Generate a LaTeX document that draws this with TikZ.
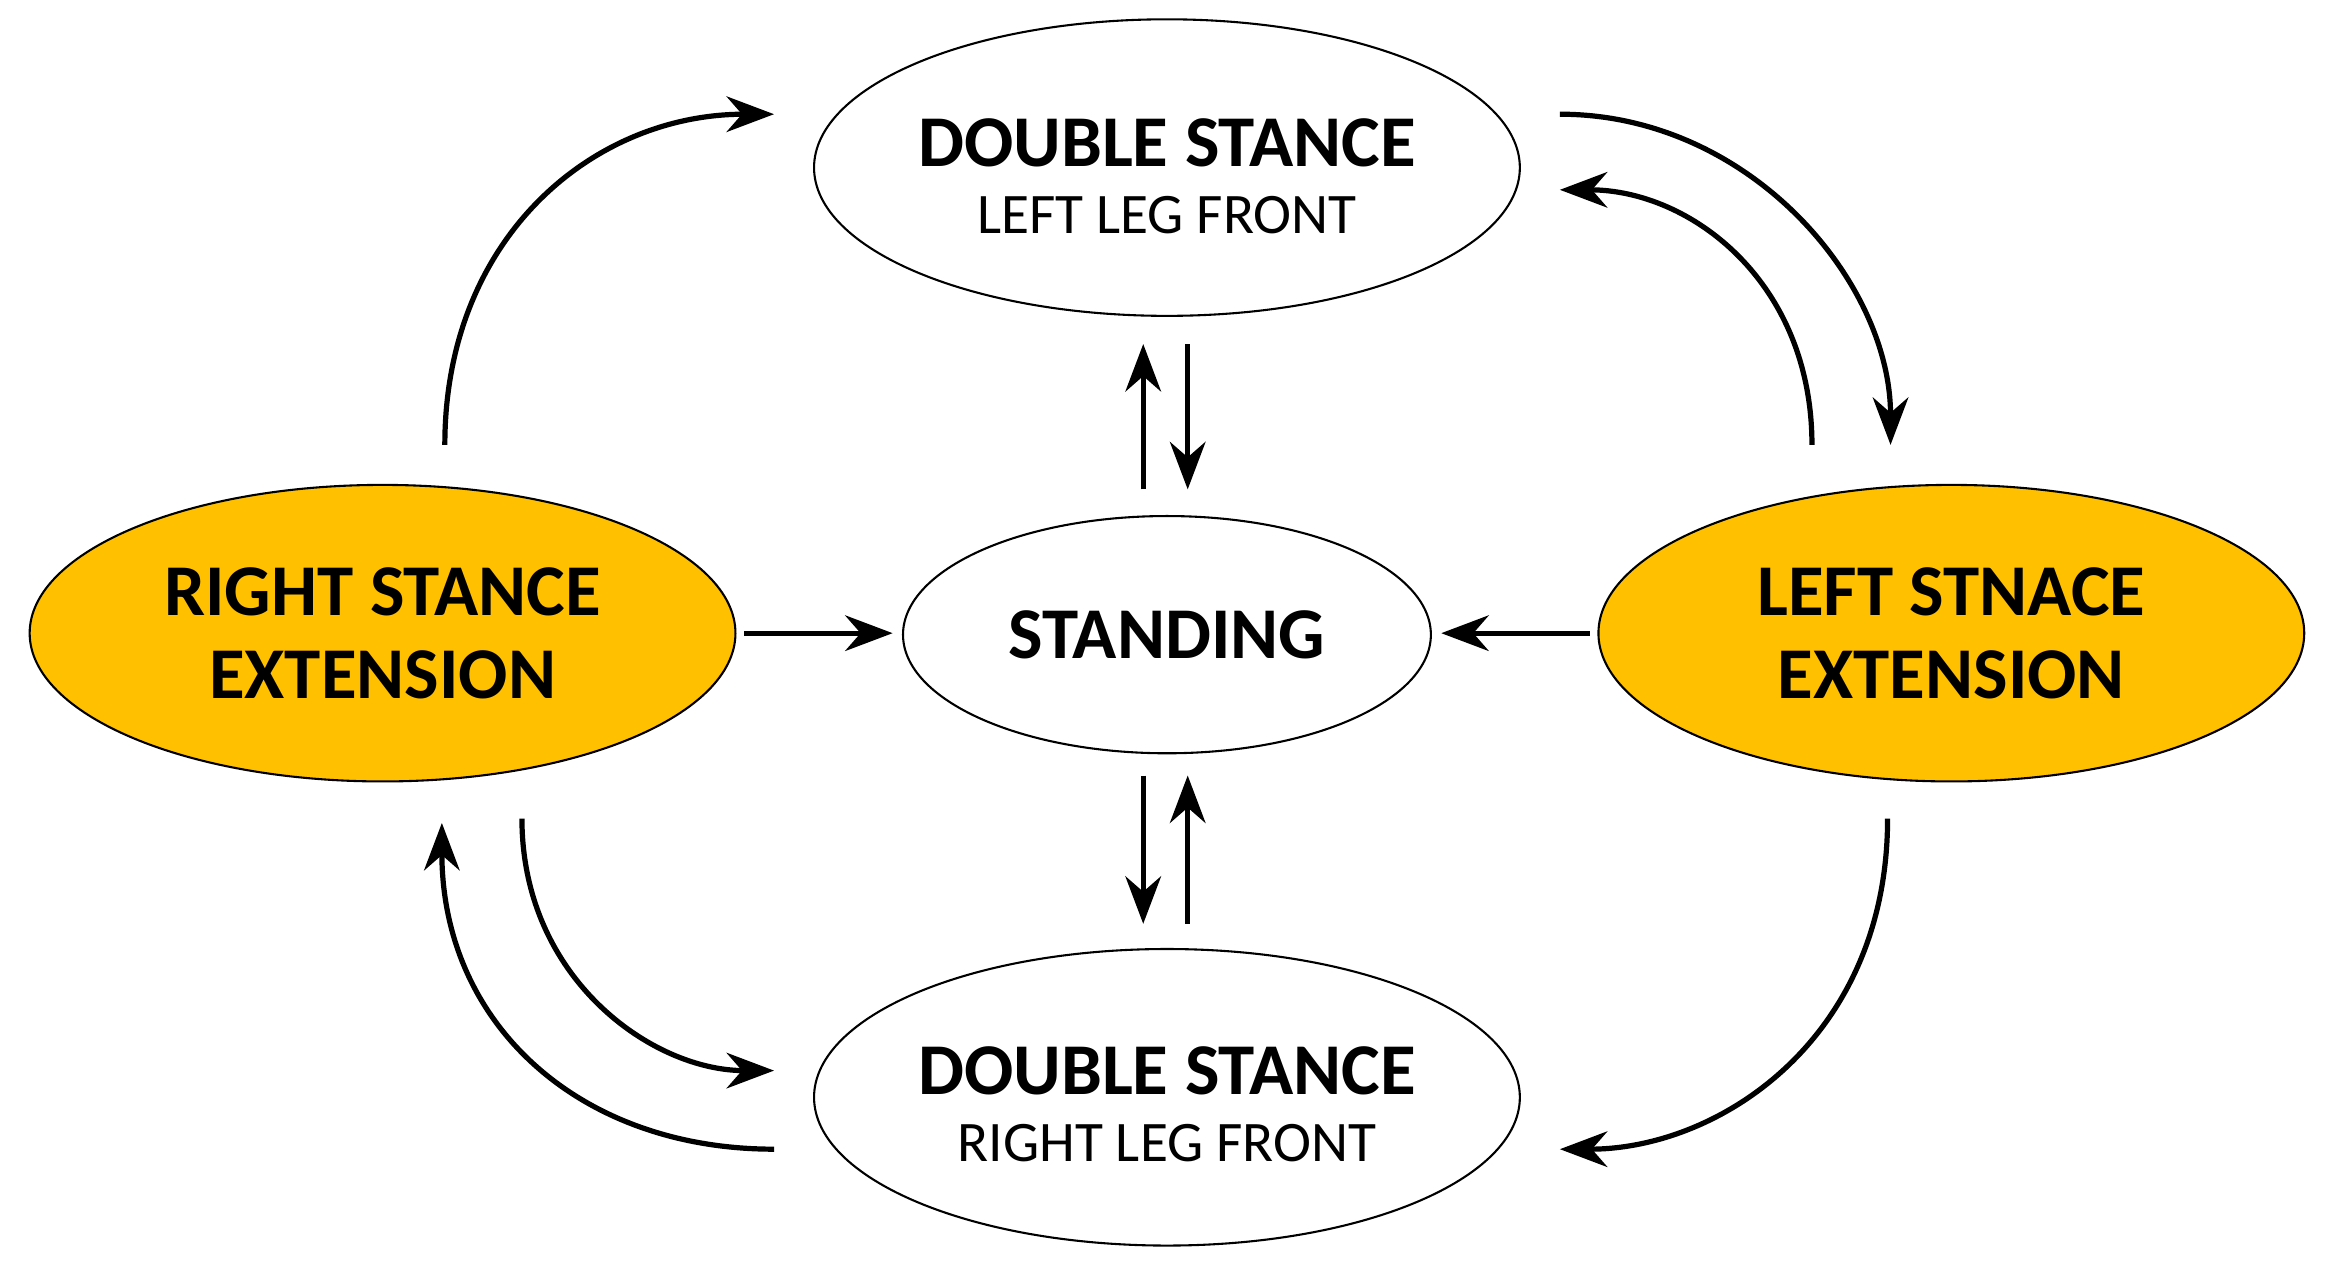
\documentclass[tikz,border=0pt]{standalone}
\usepackage{fontspec}
\setmainfont{Carlito}
\usetikzlibrary{shapes.geometric,arrows.meta}
\definecolor{gold}{HTML}{FFC000}
\begin{document}
\begin{tikzpicture}[x=0.1mm,y=-0.1mm,
  st/.style={ellipse,draw,line width=0.4pt,inner sep=0pt,minimum width=47.6mm,minimum height=20mm,align=center,font=\bfseries\fontsize{14}{16}\selectfont},
  big/.style={font=\bfseries\fontsize{14}{16}\selectfont},
  sm/.style={font=\fontsize{11}{13}\selectfont},
  ar/.style={line width=1pt,-{Stealth[length=3.2mm,width=2.4mm]}}]
\useasboundingbox (0,0) rectangle (1568,858);
\node[st] (top) at (787,113) {};
\node[big] (toptxt) at (787,96) {DOUBLE STANCE};
\node[sm] (topsub) at (787,145) {LEFT LEG FRONT};
\node[st] (bot) at (787,740) {};
\node[big] (bottxt) at (787,722) {DOUBLE STANCE};
\node[sm] (botsub) at (787,771) {RIGHT LEG FRONT};
\node[st,minimum width=35.6mm,minimum height=16mm] (stand) at (787,428) {STANDING};
\node[st,fill=gold] (rse) at (258,427) {RIGHT STANCE\\EXTENSION};
\node[st,fill=gold] (lse) at (1316,427) {LEFT STNACE\\EXTENSION};
\foreach \n/\x/\y in {a1/300/300,a2/522/77,b1/1052/77,b2/1275/300,c1/1222/300,c2/1052/128,
 d1/352/552,d2/522/722,e1/522/775,e2/298/555,f1/1273/552,f2/1052/775,
 g1/771/330,g2/771/232,h1/801/232,h2/801/330,i1/771/523,i2/771/623,j1/801/623,j2/801/523,
 k1/502/427,k2/602/427,l1/1072/427,l2/972/427}
 \coordinate (\n) at (\x,\y);
\draw[ar] (a1) .. controls (300,160) and (400,77) .. (a2);
\draw[ar] (b1) .. controls (1180,77) and (1275,190) .. (b2);
\draw[ar] (c1) .. controls (1222,190) and (1140,128) .. (c2);
\draw[ar] (d1) .. controls (352,660) and (440,722) .. (d2);
\draw[ar] (e1) .. controls (390,775) and (298,690) .. (e2);
\draw[ar] (f1) .. controls (1273,700) and (1160,775) .. (f2);
\draw[ar] (g1) -- (g2);
\draw[ar] (h1) -- (h2);
\draw[ar] (i1) -- (i2);
\draw[ar] (j1) -- (j2);
\draw[ar] (k1) -- (k2);
\draw[ar] (l1) -- (l2);
\end{tikzpicture}
\end{document}
